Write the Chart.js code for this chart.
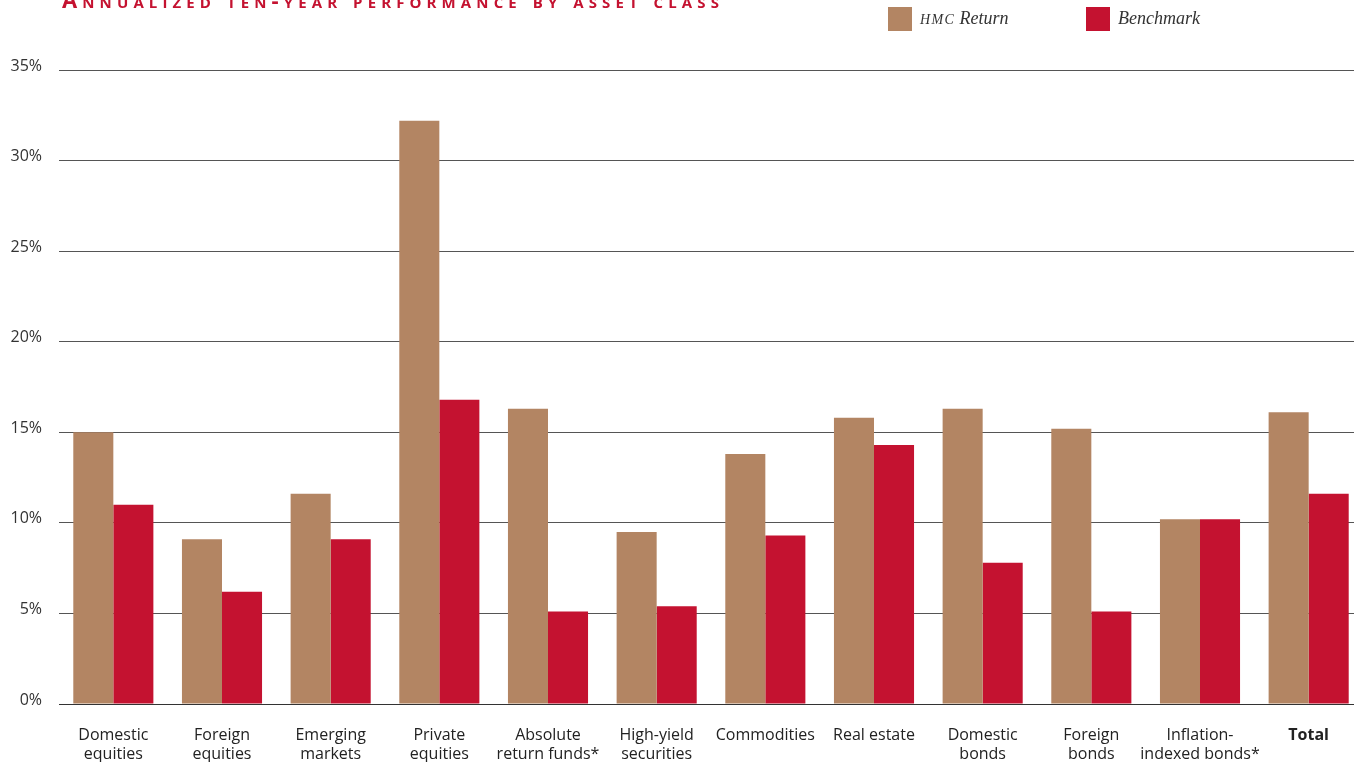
<!DOCTYPE html>
<html>
<head>
<meta charset="utf-8">
<script src="https://cdn.jsdelivr.net/npm/chart.js@4.4.1/dist/chart.umd.min.js"></script>
<style>
    html, body { margin: 0; padding: 0; background: #fff; overflow: hidden; }
    #wrap { position: relative; width: 1354px; height: 762px; overflow: hidden; }
    #chart { position: absolute; left: 0; top: 0; }
    .title {
        position: absolute; left: 62px; top: -12px;
        font-family: "Open Sans", sans-serif; font-weight: bold;
        font-size: 22px; line-height: 22px;
        font-variant: small-caps; letter-spacing: 5.12px;
        color: #c41230; white-space: nowrap;
    }
    .legend-item { position: absolute; top: 7px; height: 24px; }
    .legend-item .box { position: absolute; left: 0; top: 0; width: 24px; height: 24px; }
    .legend-item .txt {
        position: absolute; left: 32px; top: 0px; white-space: nowrap;
        font-family: "Liberation Serif", serif; font-style: italic;
        font-size: 18px; line-height: 22px; color: #333;
    }
    .sc { font-size: 0.78em; letter-spacing: 1.3px; }
</style>
</head>
<body>
<div id="wrap">
    <canvas id="chart" width="1363" height="762"></canvas>
    <div class="title">Annualized ten-year performance by asset class</div>
    <div class="legend-item" style="left:888px">
        <div class="box" style="background:#b38563"></div>
        <div class="txt"><span class="sc">HMC</span> Return</div>
    </div>
    <div class="legend-item" style="left:1086px">
        <div class="box" style="background:#c41230"></div>
        <div class="txt">Benchmark</div>
    </div>
</div>
<script>
// Asset classes (two-line labels)
const categories = [
    ['Domestic', 'equities'],
    ['Foreign', 'equities'],
    ['Emerging', 'markets'],
    ['Private', 'equities'],
    ['Absolute', 'return funds*'],
    ['High-yield', 'securities'],
    ['Commodities'],
    ['Real estate'],
    ['Domestic', 'bonds'],
    ['Foreign', 'bonds'],
    ['Inflation-', 'indexed bonds*'],
    ['Total']
];

// Annualized returns, %
const hmcReturn = [15.0, 9.1, 11.6, 32.2, 16.3, 9.5, 13.8, 15.8, 16.3, 15.2, 10.2, 16.1];
const benchmark = [11.0, 6.2, 9.1, 16.8, 5.1, 5.4, 9.3, 14.3, 7.8, 5.1, 10.2, 11.6];

const yTicks = [0, 5, 10, 15, 20, 25, 30, 35];

const labelFont = '"Open Sans", sans-serif';

new Chart(document.getElementById('chart'), {
    type: 'bar',
    data: {
        labels: categories,
        datasets: [
            {
                label: 'HMC Return',
                data: hmcReturn,
                backgroundColor: '#b38563',
                borderWidth: 0,
                barPercentage: 1.0,
                categoryPercentage: 0.737
            },
            {
                label: 'Benchmark',
                data: benchmark,
                backgroundColor: '#c41230',
                borderWidth: 0,
                barPercentage: 1.0,
                categoryPercentage: 0.737
            }
        ]
    },
    options: {
        responsive: false,
        devicePixelRatio: 1,
        animation: false,
        layout: { padding: { top: 70, right: 0, bottom: 0, left: 0 } },
        plugins: {
            legend: { display: false },
            tooltip: { enabled: false }
        },
        scales: {
            x: {
                grid: { display: false, drawTicks: false },
                border: { display: false },
                afterFit: scale => { scale.height = 58; },
                ticks: {
                    padding: 22,
                    maxRotation: 0,
                    autoSkip: false,
                    color: '#222',
                    font: ctx => ({
                        family: labelFont,
                        size: 16,
                        lineHeight: 1.2,
                        weight: ctx.index === categories.length - 1 ? 'bold' : 'normal'
                    })
                }
            },
            y: {
                min: 0,
                max: 35,
                afterFit: scale => { scale.width = 59; },
                afterBuildTicks: scale => {
                    scale.ticks = yTicks.map(v => ({ value: v }));
                },
                grid: {
                    drawTicks: false,
                    color: ctx => ctx.tick && ctx.tick.value === 0 ? '#333' : '#555',
                    lineWidth: 1
                },
                border: { display: false },
                ticks: {
                    padding: 17,
                    labelOffset: -4,
                    color: '#333',
                    font: { family: labelFont, size: 16 },
                    callback: v => v + '%'
                }
            }
        }
    }
});
</script>
</body>
</html>
